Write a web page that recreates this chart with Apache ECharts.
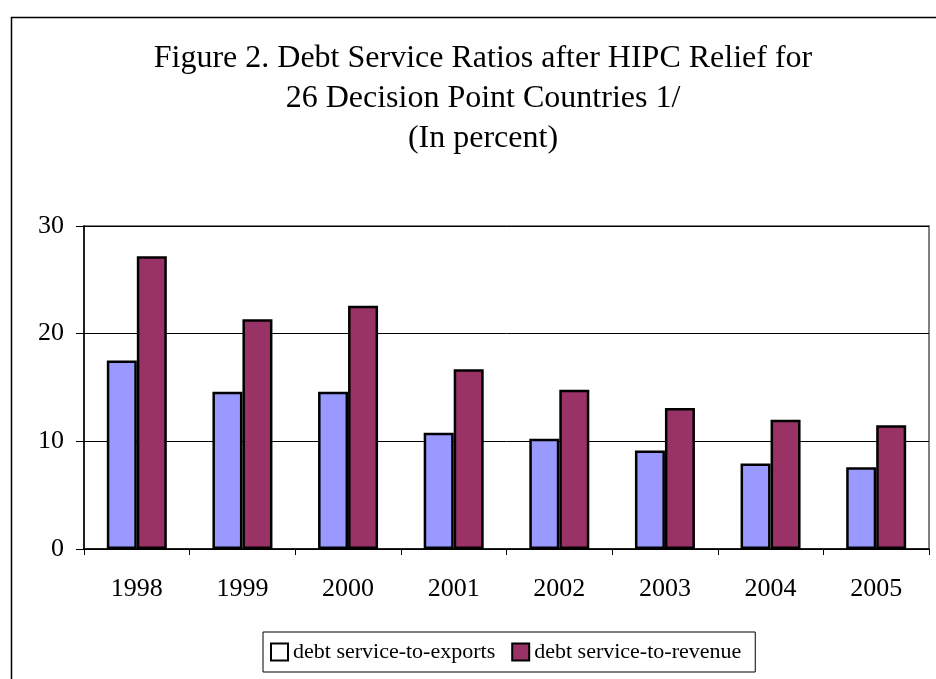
<!DOCTYPE html>
<html>
<head>
<meta charset="utf-8">
<script src="https://cdn.jsdelivr.net/npm/echarts@6/dist/echarts.min.js"></script>
<style>html,body{margin:0;padding:0;background:#fff}#c{width:936px;height:679px}</style>
</head>
<body>
<div id="c"></div>
<script>
var years = ['1998','1999','2000','2001','2002','2003','2004','2005'];
var exportsRatio = [17.5, 14.6, 14.6, 10.8, 10.25, 9.15, 7.95, 7.6];
var revenueRatio = [27.2, 21.35, 22.6, 16.7, 14.8, 13.1, 12.0, 11.5];
var yTicks = [0, 10, 20, 30];
var titleText = 'Figure 2. Debt Service Ratios after HIPC Relief for\n26 Decision Point Countries 1/\n(In percent)';
var seriesNames = ['debt service-to-exports', 'debt service-to-revenue'];

var FONT = '"Liberation Serif", "Times New Roman", serif';
var chart = echarts.init(document.getElementById('c'), null, {renderer: 'canvas'});
chart.setOption({
  animation: false,
  backgroundColor: '#fff',
  graphic: [{
    type: 'rect', left: 9, top: 15, z: -1,
    shape: {width: 960, height: 700},
    style: {fill: 'none', stroke: '#000', lineWidth: 1.5}
  }],
  title: {
    text: titleText,
    left: 478, top: 34, textAlign: 'center',
    textStyle: {fontFamily: FONT, fontSize: 32, fontWeight: 'normal', color: '#000', lineHeight: 40}
  },
  grid: {left: 84, top: 226, right: 7, bottom: 130, show: true, borderColor: '#808080', borderWidth: 2, backgroundColor: '#fff'},
  legend: {
    left: 263, top: 632,
    padding: [9, 14, 9, 7],
    itemGap: 16, itemWidth: 17, itemHeight: 17,
    borderColor: '#000', borderWidth: 1,
    textStyle: {fontFamily: FONT, fontSize: 22, color: '#000'},
    data: [
      {name: seriesNames[0], icon: 'rect', itemStyle: {color: '#fff', borderColor: '#000', borderWidth: 2}},
      {name: seriesNames[1], icon: 'rect', itemStyle: {color: '#993366', borderColor: '#000', borderWidth: 2}}
    ]
  },
  xAxis: {
    type: 'category', data: years,
    axisLine: {lineStyle: {color: '#000', width: 1.5}},
    axisTick: {show: true, length: 6, lineStyle: {color: '#000'}},
    axisLabel: {fontFamily: FONT, fontSize: 26, color: '#000', margin: 27}
  },
  yAxis: {
    type: 'value', min: yTicks[0], max: yTicks[yTicks.length - 1], interval: 10,
    axisLine: {show: true, lineStyle: {color: '#000', width: 1.5}},
    axisTick: {show: true, length: 8, lineStyle: {color: '#000'}},
    axisLabel: {fontFamily: FONT, fontSize: 26, color: '#000', margin: 20},
    splitLine: {show: true, lineStyle: {color: '#000', width: 1}}
  },
  series: [
    {name: seriesNames[0], type: 'bar', data: exportsRatio, barWidth: 30, barGap: '0%',
     itemStyle: {color: '#9999FF', borderColor: '#000', borderWidth: 2.5}},
    {name: seriesNames[1], type: 'bar', data: revenueRatio, barWidth: 30, barGap: '0%',
     itemStyle: {color: '#993366', borderColor: '#000', borderWidth: 2.5}}
  ]
});
</script>
</body>
</html>
